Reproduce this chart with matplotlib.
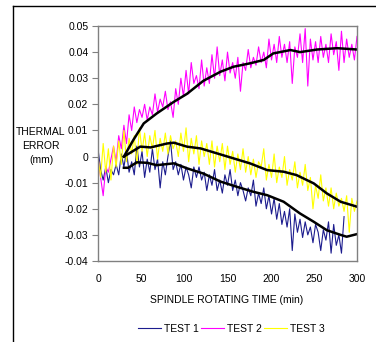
import numpy as np
import matplotlib
matplotlib.use("Agg")
import matplotlib.pyplot as plt
from matplotlib.lines import Line2D

plt.rcParams['font.family'] = ['Liberation Sans Narrow', 'Liberation Sans', 'DejaVu Sans']

TIME_STEP = 3  # minutes between samples

test1 = [0.003, -0.005, -0.009, -0.004, -0.010, -0.005, -0.007, -0.003, -0.007, 0.001,
         -0.004, 0.002, -0.006, -0.002, -0.007, 0.004, -0.004, 0.002, -0.008, -0.001,
         -0.006, 0.003, -0.005, -0.001, -0.012, -0.002, -0.007, 0.000, 0.006, -0.005,
         -0.002, -0.007, -0.003, -0.009, -0.004, -0.007, -0.012, -0.004, -0.008, -0.004,
         -0.009, -0.006, -0.013, -0.007, -0.011, -0.005, -0.013, -0.009, -0.014, -0.007,
         -0.011, -0.005, -0.013, -0.009, -0.015, -0.010, -0.013, -0.017, -0.012, -0.015,
         -0.009, -0.019, -0.014, -0.018, -0.012, -0.020, -0.015, -0.022, -0.016, -0.024,
         -0.018, -0.026, -0.021, -0.027, -0.020, -0.036, -0.022, -0.029, -0.024, -0.031,
         -0.025, -0.030, -0.027, -0.033, -0.026, -0.029, -0.036, -0.028, -0.032, -0.025,
         -0.037, -0.026, -0.034, -0.030, -0.037, -0.023]

test2 = [0.000, -0.008, -0.015, -0.004, -0.006, -0.001, 0.004, -0.002, 0.008, 0.003,
         0.012, 0.005, 0.016, 0.010, 0.019, 0.013, 0.018, 0.015, 0.020, 0.014,
         0.019, 0.016, 0.024, 0.017, 0.022, 0.019, 0.025, 0.018, 0.021, 0.015,
         0.026, 0.020, 0.030, 0.023, 0.033, 0.024, 0.036, 0.028, 0.031, 0.026,
         0.037, 0.027, 0.034, 0.028, 0.039, 0.030, 0.042, 0.031, 0.037, 0.029,
         0.040, 0.032, 0.036, 0.030, 0.038, 0.025, 0.036, 0.033, 0.041, 0.034,
         0.038, 0.035, 0.042, 0.036, 0.040, 0.034, 0.045, 0.037, 0.043, 0.036,
         0.046, 0.038, 0.043, 0.036, 0.044, 0.028, 0.042, 0.038, 0.047, 0.036,
         0.049, 0.027, 0.045, 0.037, 0.044, 0.036, 0.046, 0.038, 0.043, 0.036,
         0.047, 0.039, 0.044, 0.033, 0.048, 0.036, 0.045, 0.038, 0.043, 0.037,
         0.046]

test3 = [0.000, -0.008, 0.005, -0.006, 0.003, -0.009, 0.004, -0.004, 0.006, -0.003,
         0.010, -0.002, 0.007, 0.001, 0.008, -0.003, 0.011, 0.002, 0.009, 0.000,
         0.008, 0.003, 0.010, -0.001, 0.007, 0.002, 0.009, 0.001, 0.008, 0.003,
         0.006, 0.000, 0.009, 0.002, 0.011, -0.002, 0.007, 0.001, 0.008, -0.003,
         0.006, 0.000, 0.005, -0.003, 0.006, -0.004, 0.004, -0.002, 0.005, -0.005,
         0.004, -0.003, 0.002, -0.006, 0.001, -0.005, 0.003, -0.006, 0.000, -0.007,
         -0.001, -0.008, -0.002, -0.004, 0.003, -0.009, -0.003, -0.008, 0.001, -0.010,
         -0.004, -0.008, 0.000, -0.011, -0.005, -0.009, -0.002, -0.012, -0.006, -0.011,
         -0.003, -0.013, -0.008, -0.020, -0.011, -0.016, -0.007, -0.017, -0.012, -0.019,
         -0.012, -0.020, -0.014, -0.019, -0.016, -0.021, -0.015, -0.029, -0.016, -0.021,
         -0.017]

# smoothed trend lines (black)
trend1_t = [30, 35, 45, 57, 68, 88, 103, 122, 142, 161, 180, 196, 215, 234, 250, 265, 281, 288, 300]
trend1_v = [-0.0043, -0.0043, -0.0022, -0.0024, -0.0033, -0.0026, -0.0045, -0.0065, -0.0096,
            -0.0116, -0.0135, -0.0148, -0.0173, -0.0218, -0.0250, -0.0282, -0.0300, -0.0307, -0.0297]
trend2_t = [30, 41, 53, 68, 88, 103, 122, 142, 157, 176, 192, 203, 223, 234, 254, 277, 300]
trend2_v = [0.0000, 0.0064, 0.0127, 0.0165, 0.0210, 0.0240, 0.0290, 0.0325, 0.0344, 0.0357,
            0.0370, 0.0395, 0.0408, 0.0400, 0.0410, 0.0415, 0.0410]
trend3_t = [30, 49, 61, 80, 88, 103, 119, 138, 157, 176, 196, 215, 230, 250, 265, 281, 300]
trend3_v = [0.0000, 0.0038, 0.0035, 0.0050, 0.0053, 0.0038, 0.0031, 0.0012, -0.0007, -0.0026,
            -0.0052, -0.0058, -0.0071, -0.0103, -0.0141, -0.0173, -0.0192]

labels = ["TEST 1", "TEST 2", "TEST 3"]
colors = ["#1c1c8e", "#ff00ff", "#ffff00"]

fig = plt.figure(figsize=(3.76, 3.42), dpi=100)
ax = fig.add_axes([98/376, 1-261/342, 259/376, 235/342])

series = [test1, test2, test3]
handles = []
for vals, c, lab in zip(series, colors, labels):
    t = TIME_STEP * np.arange(len(vals))
    h, = ax.plot(t, vals, color=c, lw=0.8, label=lab)
    handles.append(h)

for tt, vv in [(trend1_t, trend1_v), (trend2_t, trend2_v), (trend3_t, trend3_v)]:
    ax.plot(tt, vv, color="black", lw=1.8)

ax.set_xlim(0, 300)
ax.set_ylim(-0.04, 0.05)
ax.set_xticks(np.arange(0, 301, 50))
ax.set_yticks(np.round(np.arange(-0.04, 0.0501, 0.01), 2))
ax.set_yticklabels(["-0.04", "-0.03", "-0.02", "-0.01", "0", "0.01", "0.02", "0.03", "0.04", "0.05"])
ax.tick_params(axis='y', length=4, width=0.8, color="#808080", labelsize=7.5, pad=3)
ax.tick_params(axis='x', length=0, labelsize=7.5, pad=9)
for s in ax.spines.values():
    s.set_color("#808080")
    s.set_linewidth(1.0)

fig.text(41/376, 1-146/342, "THERMAL\nERROR\n(mm)", ha="center", va="center",
         fontsize=7.5, linespacing=1.5)
fig.text(227/376, 1-300/342, "SPINDLE ROTATING TIME (min)", ha="center", va="center",
         fontsize=7.5)

fig.legend(handles=handles, labels=labels, loc="center", bbox_to_anchor=(231/376, 1-329/342),
           ncol=3, frameon=False, fontsize=7.5, handlelength=2.2, handletextpad=0.3,
           columnspacing=0.2)

fig.add_artist(Line2D([13/376, 13/376], [0, 1-6/342], color="black", lw=1.0,
                      transform=fig.transFigure))
fig.add_artist(Line2D([13/376, 1], [1-6/342, 1-6/342], color="black", lw=1.0,
                      transform=fig.transFigure))

fig.savefig("out.png", dpi=100)
